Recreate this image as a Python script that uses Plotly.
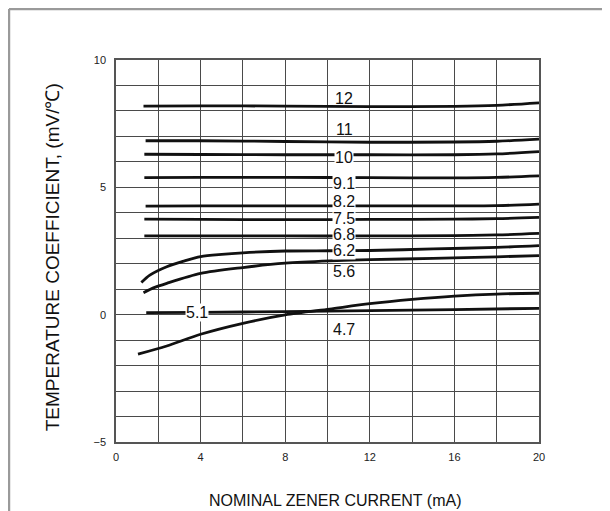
import plotly.graph_objects as go

# ---- data ----
flat_x = [4, 8, 12, 16, 18, 20]

v12_start = 1.3
v12 = [8.19, 8.20, 8.19, 8.17, 8.18, 8.22, 8.32]
v11_start = 1.4
v11 = [6.83, 6.83, 6.80, 6.77, 6.78, 6.81, 6.89]
v10_start = 1.34
v10 = [6.30, 6.29, 6.28, 6.28, 6.28, 6.31, 6.40]
v91_start = 1.34
v91 = [5.38, 5.39, 5.39, 5.38, 5.37, 5.39, 5.45]
v82_start = 1.4
v82 = [4.26, 4.27, 4.27, 4.27, 4.27, 4.28, 4.34]
v75_start = 1.34
v75 = [3.75, 3.74, 3.73, 3.74, 3.75, 3.77, 3.82]
v68_start = 1.34
v68 = [3.09, 3.09, 3.09, 3.09, 3.10, 3.13, 3.19]

x62 = [1.2, 1.6, 2.4, 3.2, 4.0, 5.0, 6.0, 8.0, 10.1, 12, 15, 18, 20]
v62 = [1.26, 1.55, 1.88, 2.10, 2.28, 2.37, 2.43, 2.50, 2.51, 2.52, 2.58, 2.64, 2.71]

x56 = [1.3, 1.8, 2.4, 4.0, 6.0, 8.0, 10.1, 12, 15, 18, 20]
v56 = [0.86, 1.06, 1.23, 1.62, 1.85, 2.02, 2.11, 2.16, 2.21, 2.27, 2.32]

x51 = [1.43, 4, 8, 12, 16, 20]
v51 = [0.08, 0.09, 0.12, 0.16, 0.20, 0.25]

x47 = [1.04, 2.4, 4.0, 6.0, 8.0, 10.1, 12, 14, 16, 18, 20]
v47 = [-1.55, -1.23, -0.77, -0.34, -0.01, 0.22, 0.43, 0.60, 0.73, 0.81, 0.84]

series = [
    ("12", [v12_start] + flat_x, v12),
    ("11", [v11_start] + flat_x, v11),
    ("10", [v10_start] + flat_x, v10),
    ("9.1", [v91_start] + flat_x, v91),
    ("8.2", [v82_start] + flat_x, v82),
    ("7.5", [v75_start] + flat_x, v75),
    ("6.8", [v68_start] + flat_x, v68),
    ("6.2", x62, v62),
    ("5.6", x56, v56),
    ("5.1", x51, v51),
    ("4.7", x47, v47),
]

# curve labels: text, x, y, white box (drawn top-down)
label_text = ["12", "11", "10", "9.1", "8.2", "7.5", "6.8", "6.2", "5.6", "5.1", "4.7"]
label_x = [10.8, 10.8, 10.8, 10.8, 10.8, 10.8, 10.8, 10.8, 10.8, 3.82, 10.8]
label_y = [8.5, 7.27, 6.16, 5.14, 4.44, 3.77, 3.14, 2.52, 1.70, 0.07, -0.58]
label_box = [False, False, True, True, True, True, True, True, False, True, False]

x_ticks = [0, 4, 8, 12, 16, 20]
y_ticks = [-5, 0, 5, 10]

FONT = "Liberation Sans, Arial, sans-serif"
GRID = "#4a4a4a"

fig = go.Figure()
for name, xs, ys in series:
    fig.add_trace(go.Scatter(
        x=xs, y=ys, mode="lines", name=name,
        line=dict(color="#111111", width=2.8, shape="spline", smoothing=0.8),
        showlegend=False, hoverinfo="skip",
    ))

for t, lx, ly, box in zip(label_text, label_x, label_y, label_box):
    fig.add_annotation(
        x=lx, y=ly, text=t, showarrow=False, xref="x", yref="y",
        font=dict(family=FONT, size=16, color="#111111"),
        bgcolor="white" if box else "rgba(0,0,0,0)",
        borderpad=0,
    )

# axis titles
fig.add_annotation(
    x=0.518, y=-0.152, xref="paper", yref="paper",
    text="NOMINAL ZENER CURRENT (mA)", showarrow=False,
    font=dict(family=FONT, size=16, color="#111111"),
    xanchor="center", yanchor="middle",
)
fig.add_annotation(
    x=-0.151, y=0.484, xref="paper", yref="paper",
    text="TEMPERATURE COEFFICIENT, (mV/℃)", showarrow=False, textangle=-90,
    font=dict(family=FONT, size=19, color="#111111"),
    xanchor="center", yanchor="middle",
)

# outer frame (left and top edges of the page border)
fig.add_shape(type="line", xref="paper", yref="paper",
              x0=-0.2530, y0=-0.25, x1=-0.2530, y1=1.1335,
              line=dict(color="#9a9a9a", width=2.5))
fig.add_shape(type="line", xref="paper", yref="paper",
              x0=-0.2530, y0=1.1335, x1=1.2, y1=1.1335,
              line=dict(color="#9a9a9a", width=2.5))

fig.update_xaxes(
    range=[0, 20], tickvals=x_ticks, showgrid=True, gridcolor=GRID, gridwidth=1,
    minor=dict(dtick=2, showgrid=True, gridcolor=GRID, gridwidth=1),
    showline=True, linecolor="#555555", linewidth=1.5, mirror=True,
    zeroline=False, ticks="", ticklabelstandoff=4,
    tickfont=dict(family=FONT, size=11, color="#222222"),
)
fig.update_yaxes(
    range=[-5, 10], tickvals=y_ticks, showgrid=True, gridcolor=GRID, gridwidth=1,
    minor=dict(dtick=1, showgrid=True, gridcolor=GRID, gridwidth=1),
    showline=True, linecolor="#555555", linewidth=1.5, mirror=True,
    zeroline=False, ticks="", ticklabelstandoff=6,
    tickfont=dict(family=FONT, size=11, color="#222222"),
)

# page shows the figure with an 8px offset, so the figure is made 8px smaller
fig.update_layout(
    width=602, height=503,
    margin=dict(l=108, r=71, t=52, b=69),
    paper_bgcolor="white", plot_bgcolor="white",
    font=dict(family=FONT),
)

fig.write_html("out.html")
